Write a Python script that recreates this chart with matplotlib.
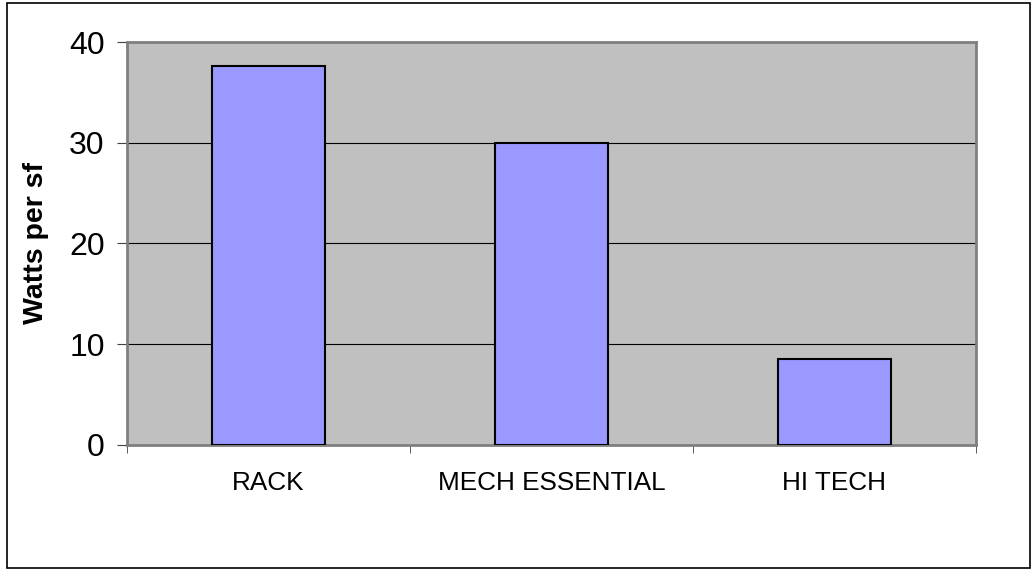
import matplotlib.pyplot as plt
import matplotlib.patches as patches

categories = ['RACK', 'MECH ESSENTIAL', 'HI TECH']
watts = [37.6, 30.0, 8.5]
y_ticks = [0, 10, 20, 30, 40]

plt.rcParams['font.family'] = ['Liberation Sans', 'DejaVu Sans']

fig = plt.figure(figsize=(10.34, 5.71), dpi=100)
# outer chart border
fig.patches.append(patches.Rectangle((7 / 1034, 3 / 571), 1023 / 1034, 565 / 571,
                                     transform=fig.transFigure, fill=False,
                                     edgecolor='black', linewidth=1.2))

ax = fig.add_axes([127 / 1034, 126 / 571, 849 / 1034, 403 / 571])
ax.set_facecolor('#C0C0C0')

x = range(len(categories))
ax.bar(x, watts, width=0.4, color='#9999FF', edgecolor='black', linewidth=1.5, zorder=3)

ax.set_xlim(-0.5, len(categories) - 0.5)
ax.set_ylim(0, 40)
ax.set_yticks(y_ticks)
ax.yaxis.grid(True, color='black', linewidth=0.8, zorder=1)
ax.set_axisbelow(True)

ax.set_xticks(list(x))
ax.set_xticklabels(categories, fontsize=18.8)
ax.tick_params(axis='x', length=0, pad=19)
ax.set_xticks([i - 0.5 for i in range(len(categories) + 1)], minor=True)
ax.tick_params(axis='x', which='minor', length=6, direction='out', color='#404040')
ax.tick_params(axis='y', labelsize=23, length=7, direction='out', pad=9, color='#404040')

for side in ['top', 'right', 'left', 'bottom']:
    ax.spines[side].set_color('#808080')
    ax.spines[side].set_linewidth(2)

ax.set_ylabel('Watts per sf', fontsize=20.5, fontweight='bold')
ax.yaxis.set_label_coords(-78 / 849, 0.5)

fig.savefig('out.png', dpi=100)
